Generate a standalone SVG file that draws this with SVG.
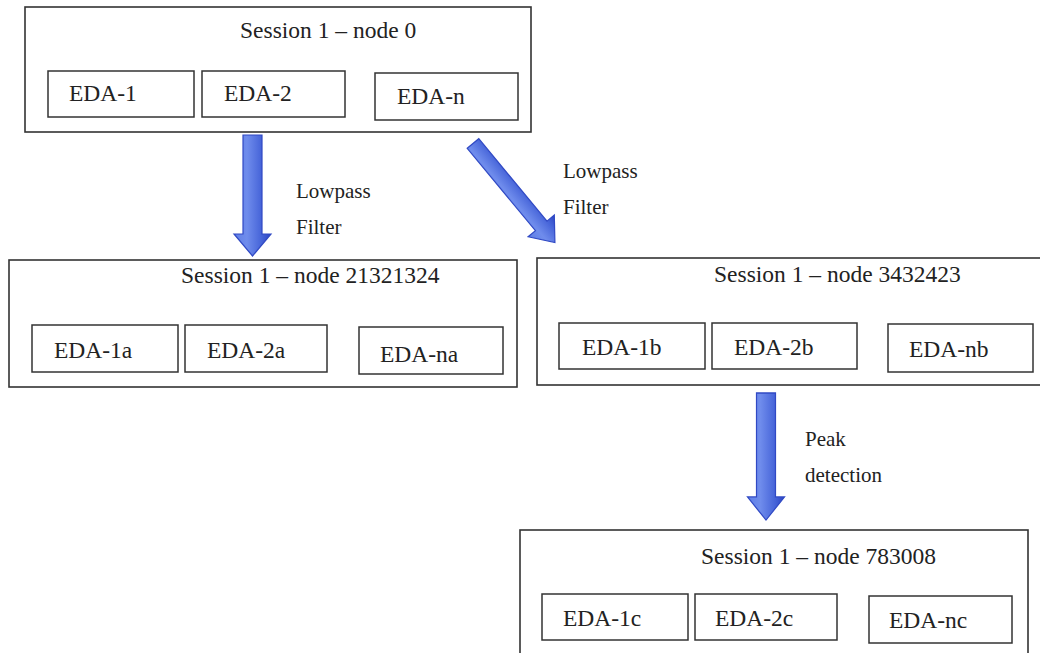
<svg xmlns="http://www.w3.org/2000/svg" width="1040" height="653" viewBox="0 0 1040 653">
  <defs>
    <linearGradient id="arrowFill" x1="0" y1="0" x2="1" y2="0">
      <stop offset="0" stop-color="#5f7fe6"/>
      <stop offset="0.35" stop-color="#6f8cec"/>
      <stop offset="0.75" stop-color="#4563d8"/>
      <stop offset="1" stop-color="#2d46c2"/>
    </linearGradient>
    <!-- block arrow pointing down, origin at the middle of its tail -->
    <path id="downArrow" d="M -9.5 0 L 9.5 0 L 9.5 99 L 18.5 99 L 0 121 L -18.5 99 L -9.5 99 Z"/>
    <path id="slantArrow" d="M -7.5 0 L 7.5 0 L 7.5 107 L 17 107 L 0 128.5 L -17 107 L -7.5 107 Z"/>
  </defs>
  <style>
    .frame { fill: #ffffff; stroke: #333333; stroke-width: 1.6; }
    .cell { fill: #ffffff; stroke: #333333; stroke-width: 1.5; }
    .title, .cellText { font-size: 23.5px; fill: #222222; }
    .label { font-size: 21px; fill: #222222; }
    .arrow { fill: url(#arrowFill); stroke: #3049c4; stroke-width: 1.2; stroke-linejoin: miter; }
  </style>
  <rect width="1040" height="653" fill="#ffffff"/>

  <g font-family="Liberation Serif, DejaVu Serif, Times New Roman, serif">
  <g id="node-0">
    <rect class="frame" x="25" y="7" width="506" height="125"/>
    <text class="title" x="240" y="38">Session 1 – node 0</text>
    <rect class="cell" x="48" y="71" width="146" height="46"/>
    <text class="cellText" x="69" y="101">EDA-1</text>
    <rect class="cell" x="202" y="71" width="143" height="46"/>
    <text class="cellText" x="224" y="101">EDA-2</text>
    <rect class="cell" x="375" y="73" width="143" height="47"/>
    <text class="cellText" x="397" y="104">EDA-n</text>
  </g>

  <g id="node-21321324">
    <rect class="frame" x="9" y="260" width="508" height="127"/>
    <text class="title" x="181" y="283">Session 1 – node 21321324</text>
    <rect class="cell" x="32" y="325" width="146" height="47"/>
    <text class="cellText" x="54" y="358">EDA-1a</text>
    <rect class="cell" x="185" y="325" width="142" height="47"/>
    <text class="cellText" x="207" y="358">EDA-2a</text>
    <rect class="cell" x="359" y="327" width="144" height="47"/>
    <text class="cellText" x="380" y="362">EDA-na</text>
  </g>

  <g id="node-3432423">
    <rect class="frame" x="537" y="258" width="510" height="127"/>
    <text class="title" x="714" y="282">Session 1 – node 3432423</text>
    <rect class="cell" x="559" y="323" width="146" height="46"/>
    <text class="cellText" x="582" y="355">EDA-1b</text>
    <rect class="cell" x="712" y="323" width="145" height="46"/>
    <text class="cellText" x="734" y="355">EDA-2b</text>
    <rect class="cell" x="888" y="324" width="145" height="48"/>
    <text class="cellText" x="909" y="357">EDA-nb</text>
  </g>

  <g id="node-783008">
    <rect class="frame" x="520" y="530" width="508" height="140"/>
    <text class="title" x="701" y="564">Session 1 – node 783008</text>
    <rect class="cell" x="542" y="594" width="146" height="46"/>
    <text class="cellText" x="563" y="626">EDA-1c</text>
    <rect class="cell" x="695" y="594" width="142" height="46"/>
    <text class="cellText" x="715" y="626">EDA-2c</text>
    <rect class="cell" x="869" y="596" width="143" height="47"/>
    <text class="cellText" x="889" y="628">EDA-nc</text>
  </g>

  <g id="connectors">
    <use href="#downArrow" class="arrow" transform="translate(252.5,135)"/>
    <text class="label" x="296" y="198">Lowpass</text>
    <text class="label" x="296" y="234">Filter</text>

    <use href="#slantArrow" class="arrow" transform="translate(473,143.5) rotate(-39.6)"/>
    <text class="label" x="563" y="178">Lowpass</text>
    <text class="label" x="563" y="214">Filter</text>

    <use href="#downArrow" class="arrow" transform="translate(766,393) scale(1,1.05)"/>
    <text class="label" x="805" y="446">Peak</text>
    <text class="label" x="805" y="482">detection</text>
  </g>
  </g>
</svg>
